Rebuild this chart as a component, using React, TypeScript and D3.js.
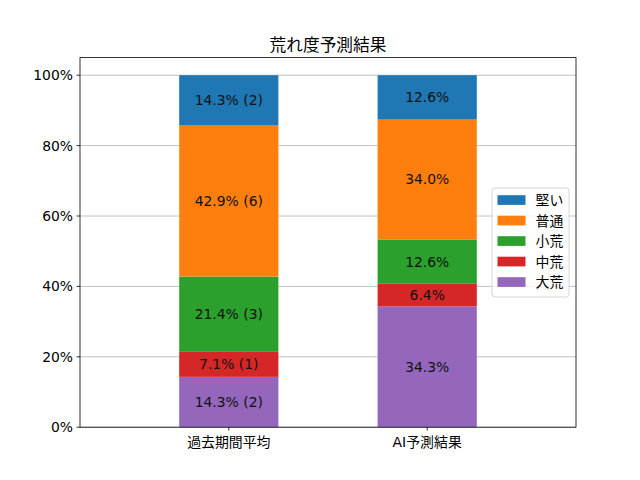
import * as d3 from "d3"

const categories = ["過去期間平均", "AI予測結果"]
const classes = ["大荒", "中荒", "小荒", "普通", "堅い"]
const colors = ["#9467bd", "#d62728", "#2ca02c", "#ff7f0e", "#1f77b4"]
const pastValues = [14.3, 7.1, 21.4, 42.9, 14.3]
const pastCounts = [2, 1, 3, 6, 2]
const aiValues = [34.3, 6.4, 12.6, 34.0, 12.6]
const yTicks = [0, 20, 40, 60, 80, 100]

const W = 640
const H = 480
const margin = { left: 80, right: 64, top: 57.6, bottom: 52.8 }
const font = "'DejaVu Sans', 'Noto Sans CJK JP', sans-serif"

export default function App() {
  const iw = W - margin.left - margin.right
  const ih = H - margin.top - margin.bottom
  const x = d3.scaleLinear().domain([-0.75, 1.75]).range([0, iw])
  const y = d3.scaleLinear().domain([0, 105]).range([ih, 0])
  const bw = x(0.5) - x(0)

  const series = [
    { values: pastValues, labels: pastValues.map((v, i) => `${v.toFixed(1)}% (${pastCounts[i]})`) },
    { values: aiValues, labels: aiValues.map((v) => `${v.toFixed(1)}%`) },
  ]

  // normalise each stack to 100 so the tops line up
  const stacks = series.map((s) => {
    const total = d3.sum(s.values)
    let acc = 0
    return s.values.map((v, i) => {
      const y0 = acc
      acc += (v / total) * 100
      return { y0, y1: acc, label: s.labels[i], color: colors[i] }
    })
  })

  const legendItems = classes.map((c, i) => ({ c, color: colors[i] })).reverse()

  return (
    <svg width={W} height={H} style={{ position: "absolute", left: 0, top: 0 }} fontFamily={font}>
      <rect width={W} height={H} fill="#fff" />
      <g transform={`translate(${margin.left},${margin.top})`}>
        {yTicks.map((t) => (
          <line key={t} x1={0} x2={iw} y1={y(t)} y2={y(t)} stroke="#b0b0b0" strokeWidth={0.8} />
        ))}
        {stacks.map((stack, ci) =>
          stack.map((seg, si) => (
            <g key={`${ci}-${si}`}>
              <rect
                x={x(ci) - bw / 2}
                width={bw}
                y={y(seg.y1)}
                height={y(seg.y0) - y(seg.y1)}
                fill={seg.color}
              />
              <text
                x={x(ci)}
                y={y((seg.y0 + seg.y1) / 2)}
                textAnchor="middle"
                dominantBaseline="central"
                fontSize={13.9}
                fill="#111"
              >
                {seg.label}
              </text>
            </g>
          )),
        )}
        <rect x={0} y={0} width={iw} height={ih} fill="none" stroke="#000" strokeWidth={0.8} />
        {yTicks.map((t) => (
          <g key={t} transform={`translate(0,${y(t)})`}>
            <line x1={-3.5} x2={0} stroke="#000" strokeWidth={0.8} />
            <text x={-7} textAnchor="end" dominantBaseline="central" fontSize={13.9}>
              {`${t}%`}
            </text>
          </g>
        ))}
        {categories.map((c, i) => (
          <g key={c} transform={`translate(${x(i)},${ih})`}>
            <line y1={0} y2={3.5} stroke="#000" strokeWidth={0.8} />
            <text y={9} textAnchor="middle" dominantBaseline="hanging" fontSize={13.9}>
              {c}
            </text>
          </g>
        ))}
        <text x={iw / 2} y={-7} textAnchor="middle" fontSize={16.7}>
          荒れ度予測結果
        </text>
        <g transform={`translate(${492 - margin.left},${188 - margin.top})`}>
          <rect width={77} height={109} rx={3} fill="#fff" fillOpacity={0.8} stroke="#ccc" strokeWidth={0.8} />
          {legendItems.map((d, i) => (
            <g key={d.c} transform={`translate(0,${12 + i * 20.5})`}>
              <rect x={5.5} y={-4.8} width={28} height={9.7} fill={d.color} />
              <text x={43.5} dominantBaseline="central" fontSize={13.9}>
                {d.c}
              </text>
            </g>
          ))}
        </g>
      </g>
    </svg>
  )
}
